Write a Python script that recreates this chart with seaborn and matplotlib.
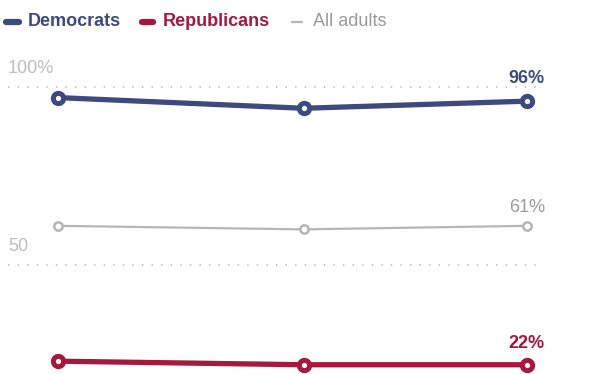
import matplotlib
matplotlib.use("Agg")
import matplotlib.pyplot as plt
import seaborn as sns
import pandas as pd
from matplotlib.lines import Line2D

# ---- data ----
x_pos = [0, 11, 21]
democrats = [97, 94, 96]
republicans = [23, 22, 22]
all_adults = [61, 60, 61]
series_names = ["Democrats", "Republicans", "All adults"]
grid_values = [50, 100]
grid_labels = ["50", "100%"]

colors = {"Democrats": "#3c4a7d", "Republicans": "#a6193e", "All adults": "#b5b5b5"}
text_colors = {"Democrats": "#3c4a7d", "Republicans": "#a6193e", "All adults": "#9a9a9a"}

df = pd.DataFrame({
    "x": x_pos * 3,
    "value": democrats + republicans + all_adults,
    "group": [s for s in series_names for _ in x_pos],
})

sns.set_theme(style="white")
plt.rcParams["font.family"] = ["Liberation Sans", "DejaVu Sans"]
FS = 13

fig = plt.figure(figsize=(6.12, 3.74), dpi=100)
ax = fig.add_axes([0, 0, 1, 1])
ax.set_xlim(-2.597, 24.81)
ax.set_ylim(19.4, 124.4)
ax.axis("off")

# gridlines
ax.hlines(grid_values, -2.24, 21.67, colors="#c4c4c4", linewidth=1.3,
          linestyles=[(0, (0.8, 4.5))], zorder=0)
for v, lab in zip(grid_values, grid_labels):
    ax.annotate(lab, xy=(-2.24, v), xytext=(0, 13.5), textcoords="offset points",
                ha="left", va="center", fontsize=FS, color="#bdbdbd")

styles = {
    "Democrats": dict(linewidth=3.8, markersize=7.4, markeredgewidth=3.6),
    "Republicans": dict(linewidth=3.8, markersize=7.4, markeredgewidth=3.6),
    "All adults": dict(linewidth=1.6, markersize=6.0, markeredgewidth=1.8),
}
for name in ["All adults", "Republicans", "Democrats"]:
    sub = df[df["group"] == name]
    sns.lineplot(data=sub, x="x", y="value", ax=ax, color=colors[name],
                 marker="o", markerfacecolor="white", markeredgecolor=colors[name],
                 legend=False, zorder=3, **styles[name])

# end labels
end_cfg = {"Democrats": (democrats[-1], 16, "bold"),
           "All adults": (all_adults[-1], 13, "normal"),
           "Republicans": (republicans[-1], 15, "bold")}
for name, (val, off, wt) in end_cfg.items():
    ax.annotate(f"{val}%", xy=(x_pos[-1], val), xytext=(0, off), textcoords="offset points",
                ha="center", va="center", fontsize=FS, fontweight=wt,
                color=text_colors[name])

# legend (custom)
leg_items = [
    ("Democrats", 6, 19, 28, 4.5, "bold"),
    ("Republicans", 142, 153, 163, 4.5, "bold"),
    ("All adults", 292, 302, 313, 1.6, "normal"),
]
W, H = 612, 374
ly = 1 - 22 / H
for name, x0, x1, tx, lw, wt in leg_items:
    fig.add_artist(Line2D([x0 / W, x1 / W], [ly, ly], color=colors[name], linewidth=lw,
                          solid_capstyle="round", transform=fig.transFigure))
    fig.text(tx / W, ly, name, ha="left", va="center", fontsize=FS,
             fontweight=wt, color=text_colors[name])

fig.savefig("out.png", dpi=100)
